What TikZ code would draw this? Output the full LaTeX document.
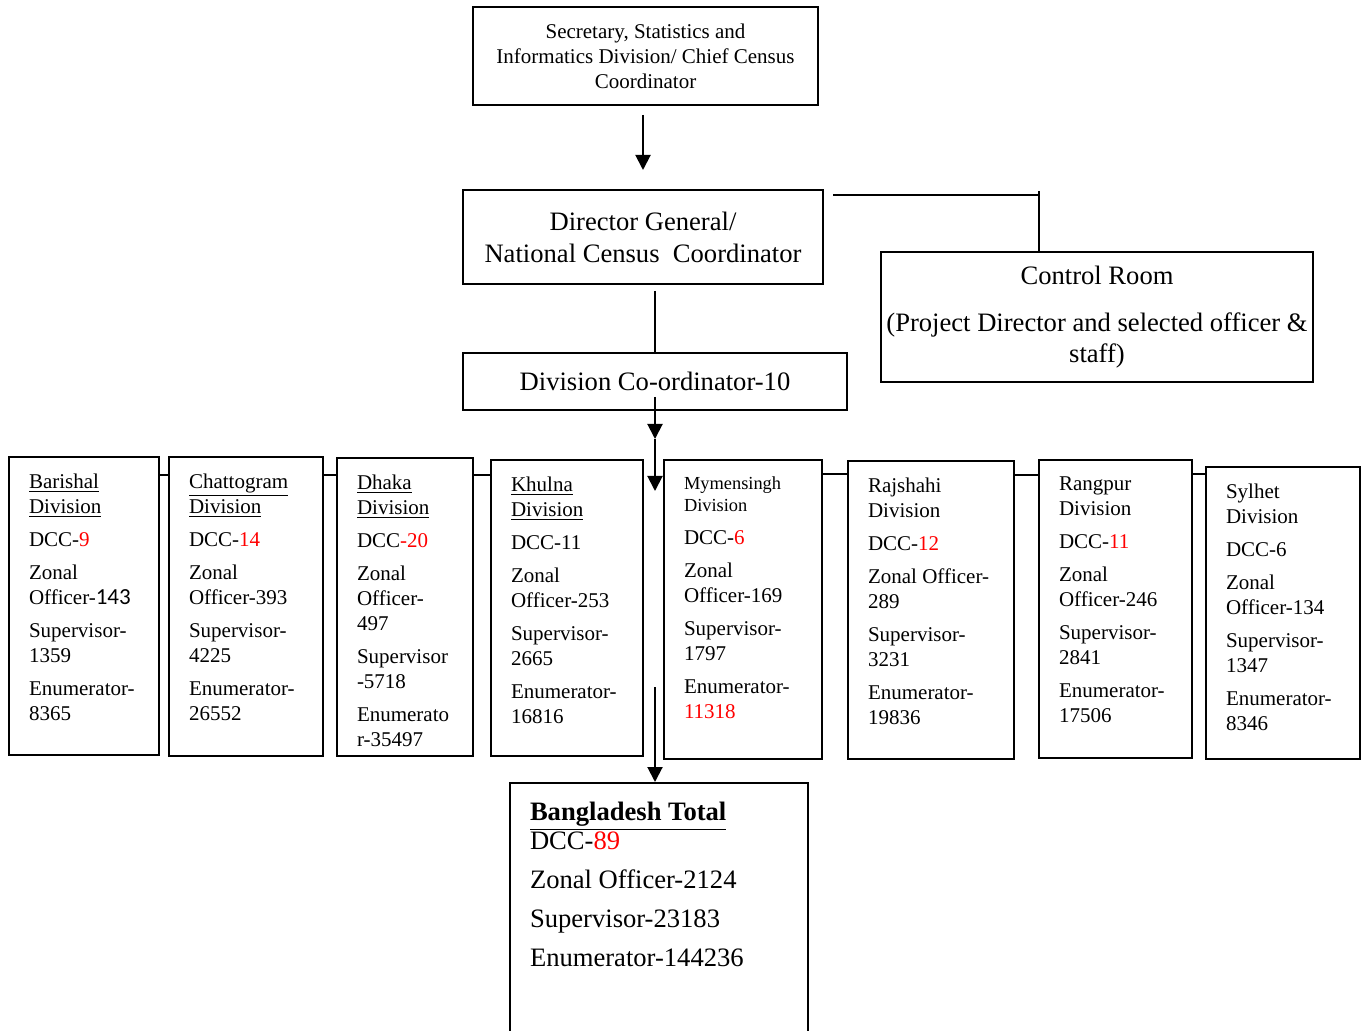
\documentclass[tikz,border=0pt]{standalone}
\usepackage{fontspec}
\setmainfont{Liberation Serif}
\newfontfamily\calibri{Carlito}
\usepackage{tikz}
\usetikzlibrary{arrows.meta}

\begin{document}
\begin{tikzpicture}[x=0.5pt, y=-0.5pt, line width=1pt,
        box/.style={draw, align=center, inner sep=1pt},
        divbox/.style 2 args={draw, anchor=north west, inner xsep=10pt, inner ysep=8.3pt,
            execute at begin node={\begin{minipage}[t][#2][t]{#1}\raggedright
                \setlength{\parskip}{4pt}\fontsize{10.5}{12.5}\selectfont},
            execute at end node={\end{minipage}}},
        totbox/.style 2 args={draw, anchor=north west, inner xsep=10pt, inner ysep=9.5pt,
            execute at begin node={\begin{minipage}[t][#2][t]{#1}\raggedright
                \setlength{\parskip}{5pt}\fontsize{13.3}{14.5}\selectfont},
            execute at end node={\end{minipage}}},
        arr/.style={-{Triangle[length=7.5pt,width=7.5pt]}}]
        \useasboundingbox (0,0) rectangle (1365,1031);
        % top of the chain
        \node   (sec) [box, minimum width=172.5pt, minimum height=49pt,
                font=\fontsize{10.5}{12.5}\selectfont] at (645.5,56)
                {Secretary, Statistics and\\ Informatics Division/ Chief Census\\ Coordinator};
        \node   (dg) [box, minimum width=180pt, minimum height=47pt,
                font=\fontsize{13.3}{16}\selectfont] at (643,237)
                {Director General/\\ National Census~ Coordinator};
        \node   (ctrl) [box, minimum width=216pt, minimum height=65pt,
                font=\fontsize{13.3}{15.5}\selectfont] at (1097,317)
                {Control Room\\[8pt] (Project Director and selected officer \&\\ staff)};
        \node   (dc) [box, minimum width=192pt, minimum height=28.5pt,
                font=\fontsize{13.3}{15.5}\selectfont] at (655,381.5)
                {Division Co-ordinator-10};
        % divisions
        \node   (bar) [divbox={55pt}{132.4pt}] at (8,456)
                {\underline{Barishal}\\ \underline{Division}\par
                 DCC-\textcolor{red}{9}\par
                 Zonal\\ Officer-{\calibri\fontsize{11.5}{12.5}\selectfont 143}\par
                 Supervisor-\\ 1359\par
                 Enumerator-\\ 8365};
        \node   (chat) [divbox={57pt}{132.9pt}] at (168,456)
                {\underline{Chattogram}\\ \underline{Division}\par
                 DCC-\textcolor{red}{14}\par
                 Zonal\\ Officer-393\par
                 Supervisor-\\ 4225\par
                 Enumerator-\\ 26552};
        \node   (dha) [divbox={48pt}{132.4pt}] at (336,457)
                {\underline{Dhaka}\\ \underline{Division}\par
                 DCC\textcolor{red}{-20}\par
                 Zonal\\ Officer-\\ 497\par
                 Supervisor\\ -5718\par
                 Enumerato\\ r-35497};
        \node   (khu) [divbox={56pt}{131.4pt}] at (490,459)
                {\underline{Khulna}\\ \underline{Division}\par
                 DCC-11\par
                 Zonal\\ Officer-253\par
                 Supervisor-\\ 2665\par
                 Enumerator-\\ 16816};
        \node   (mym) [divbox={59pt}{132.9pt}] at (663,459)
                {{\fontsize{9.2}{11}\selectfont Mymensingh\\ Division\par}
                 DCC-\textcolor{red}{6}\par
                 Zonal\\ Officer-169\par
                 Supervisor-\\ 1797\par
                 Enumerator-\\ \textcolor{red}{11318}};
        \node   (raj) [divbox={63pt}{132.4pt}] at (847,460)
                {Rajshahi\\ Division\par
                 DCC-\textcolor{red}{12}\par
                 Zonal Officer-\\ 289\par
                 Supervisor-\\ 3231\par
                 Enumerator-\\ 19836};
        \node   (rang) [divbox={56.5pt}{132.4pt}] at (1038,459)
                {Rangpur\\ Division\par
                 DCC-\textcolor{red}{11}\par
                 Zonal\\ Officer-246\par
                 Supervisor-\\ 2841\par
                 Enumerator-\\ 17506};
        \node   (syl) [divbox={57pt}{129.4pt}] at (1205,466)
                {Sylhet\\ Division\par
                 DCC-6\par
                 Zonal\\ Officer-134\par
                 Supervisor-\\ 1347\par
                 Enumerator-\\ 8346};
        % national total
        \node   (total) [totbox={129pt}{120pt}] at (509,782)
                {\textbf{\underline{Bangladesh Total}}\\
                 DCC-\textcolor{red}{89}\par
                 Zonal Officer-2124\par
                 Supervisor-23183\par
                 Enumerator-144236};
        \coordinate (crin) at ([xshift=-29pt]ctrl.north);
        \coordinate (dgout) at ([xshift=4.5pt,yshift=-3pt]dg.north east);
        \coordinate (split) at ([yshift=-14pt]dc.south);
        \draw[arr, shorten <=4.5pt, shorten >=9.5pt] (sec.south -| dg.north) -- (dg.north);
        \draw (dgout) -- (dgout -| crin);
        \draw (crin) -- ([yshift=2pt]dgout -| crin);
        \draw ([yshift=-3pt]dg.south -| dc.north) -- (dc.north);
        \draw[arr] ([yshift=7pt]dc.south) -- (split);
        \draw[arr] (split) -- ([yshift=-40pt]dc.south);
        \draw[arr] ([yshift=47.5pt]total.north -| dc.south) -- (total.north -| dc.south);
        \foreach \a/\b/\y in {bar/chat/475, chat/dha/475, dha/khu/475,
                mym/raj/474, raj/rang/475, rang/syl/474}
            \draw (\a.east |- 0,\y) -- (\b.west |- 0,\y);
    \end{tikzpicture}
\end{document}
